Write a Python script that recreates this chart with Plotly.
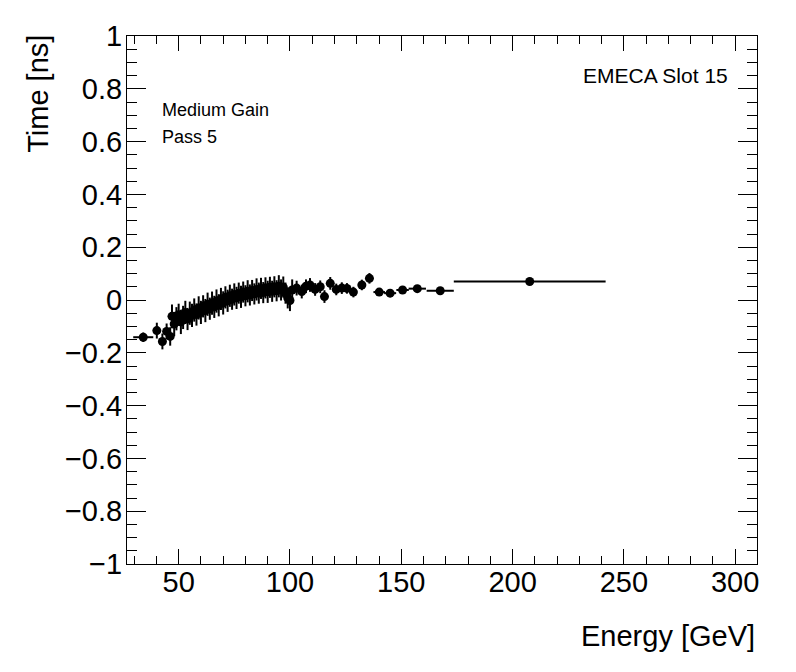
#import necessary packages
import plotly.graph_objects as go

#energy bin centres [GeV]
energy = [34.1, 40.2, 42.7, 44.6, 46.2,
          47, 48, 49, 50, 51, 52, 53, 54, 55, 56, 57, 58, 59, 60,
          61, 62, 63, 64, 65, 66, 67, 68, 69, 70, 71, 72, 73, 74, 75,
          76, 77, 78, 79, 80, 81, 82, 83, 84, 85, 86, 87, 88, 89, 90,
          91, 92, 93, 94, 95, 96, 97, 98, 99, 100, 101,
          103.0, 105.3, 107.2, 109.0, 111.3, 113.6, 115.5, 118.1, 120.8,
          123.3, 125.6, 128.5, 132.3, 135.7,
          140.1, 145.0, 150.6, 157.2, 167.5, 207.7]

#half bin widths [GeV]
energy_err = [4.5, 1.2, 1.0, 0.9, 0.8,
              0.5, 0.5, 0.5, 0.5, 0.5, 0.5, 0.5, 0.5, 0.5, 0.5, 0.5, 0.5, 0.5, 0.5,
              0.5, 0.5, 0.5, 0.5, 0.5, 0.5, 0.5, 0.5, 0.5, 0.5, 0.5, 0.5, 0.5, 0.5, 0.5,
              0.5, 0.5, 0.5, 0.5, 0.5, 0.5, 0.5, 0.5, 0.5, 0.5, 0.5, 0.5, 0.5, 0.5, 0.5,
              0.5, 0.5, 0.5, 0.5, 0.5, 0.5, 0.5, 0.5, 0.5, 0.5, 0.6,
              1.1, 1.1, 1.0, 1.0, 1.2, 1.1, 1.0, 1.3, 1.3,
              1.2, 1.2, 1.5, 1.8, 1.7,
              2.6, 2.7, 2.8, 3.9, 6.1, 34.1]

#mean time [ns]
time_ns = [-0.141, -0.116, -0.157, -0.119, -0.138,
           -0.062, -0.091, -0.071, -0.056, -0.083, -0.066, -0.047, -0.072, -0.050, -0.058,
           -0.038, -0.055, -0.030, -0.047, -0.024, -0.040, -0.016, -0.033, -0.012, -0.026,
           -0.004, -0.020, 0.004, -0.011, 0.010, -0.003, 0.016, 0.003, 0.021, 0.008,
           0.026, 0.012, 0.030, 0.016, 0.033, 0.019, 0.036, 0.023, 0.040, 0.026,
           0.044, 0.028, 0.046, 0.031, 0.048, 0.033, 0.050, 0.035, 0.052, 0.038,
           0.049, 0.026, 0.008, -0.002, 0.038,
           0.045, 0.032, 0.052, 0.057, 0.040, 0.050, 0.013, 0.063, 0.040,
           0.045, 0.044, 0.030, 0.057, 0.082,
           0.030, 0.026, 0.038, 0.043, 0.035, 0.070]

#error on mean time [ns]
time_err = [0.018, 0.030, 0.030, 0.030, 0.035,
            0.045, 0.046, 0.044, 0.042, 0.046, 0.044, 0.044, 0.042, 0.044, 0.044,
            0.044, 0.042, 0.044, 0.044, 0.042, 0.044, 0.044, 0.042, 0.044, 0.042,
            0.044, 0.042, 0.042, 0.044, 0.042, 0.042, 0.042, 0.040, 0.042, 0.042,
            0.040, 0.042, 0.040, 0.040, 0.042, 0.040, 0.040, 0.040, 0.042, 0.040,
            0.040, 0.040, 0.040, 0.042, 0.040, 0.040, 0.040, 0.040, 0.042, 0.040,
            0.040, 0.040, 0.040, 0.040, 0.040,
            0.028, 0.026, 0.026, 0.026, 0.024, 0.024, 0.024, 0.024, 0.022,
            0.022, 0.020, 0.020, 0.020, 0.020,
            0.015, 0.015, 0.014, 0.013, 0.012, 0.010]

x_ticks = [50, 100, 150, 200, 250, 300]
y_ticks = [-1, -0.8, -0.6, -0.4, -0.2, 0, 0.2, 0.4, 0.6, 0.8, 1]

font = "Liberation Sans, Arial, Helvetica, sans-serif"

fig = go.Figure()
fig.add_trace(go.Scatter(
    x=energy, y=time_ns, mode='markers',
    marker=dict(color='black', size=9, line=dict(width=0)),
    error_x=dict(type='data', array=energy_err, color='black', thickness=2, width=0),
    error_y=dict(type='data', array=time_err, color='black', thickness=2, width=0),
    showlegend=False))

#root style axes: ticks inside and mirrored on the opposite side
fig.update_xaxes(range=[26.8, 309.8], tickvals=x_ticks, ticks='inside', ticklen=15,
                 tickwidth=1, tickcolor='black', mirror='ticks', showline=True,
                 linecolor='black', linewidth=1, showgrid=False, zeroline=False,
                 minor=dict(dtick=10, tick0=0, ticks='inside', ticklen=8, tickwidth=1,
                            tickcolor='black', showgrid=False),
                 ticklabelstandoff=-8,
                 tickfont=dict(family=font, size=29, color='black'))
fig.update_yaxes(range=[-1, 1], tickvals=y_ticks, ticks='inside', ticklen=19,
                 tickwidth=1, tickcolor='black', mirror='ticks', showline=True,
                 linecolor='black', linewidth=1, showgrid=False, zeroline=False,
                 minor=dict(dtick=0.05, tick0=0, ticks='inside', ticklen=10, tickwidth=1,
                            tickcolor='black', showgrid=False),
                 ticklabelstandoff=-2,
                 tickfont=dict(family=font, size=29, color='black'))

#axis titles and labels placed like in root
fig.add_annotation(text='Energy [GeV]', xref='paper', yref='paper', x=1.0, y=-0.1356,
                   xanchor='right', yanchor='middle', showarrow=False,
                   font=dict(family=font, size=29, color='black'))
fig.add_annotation(text='Time [ns]', xref='paper', yref='paper', x=-0.1413, y=1.006,
                   xanchor='center', yanchor='top', textangle=-90, showarrow=False,
                   font=dict(family=font, size=29, color='black'))
fig.add_annotation(text='Medium Gain', xref='paper', yref='paper', x=0.0524, y=0.8606,
                   xanchor='left', yanchor='middle', showarrow=False,
                   font=dict(family=font, size=18, color='black'))
fig.add_annotation(text='Pass 5', xref='paper', yref='paper', x=0.0524, y=0.8079,
                   xanchor='left', yanchor='middle', showarrow=False,
                   font=dict(family=font, size=18, color='black'))
fig.add_annotation(text='EMECA Slot 15', xref='paper', yref='paper', x=0.957, y=0.9247,
                   xanchor='right', yanchor='middle', showarrow=False,
                   font=dict(family=font, size=21, color='black'))

#page body adds an 8px offset, so the figure is a bit smaller than the window
fig.update_layout(width=788, height=664, autosize=False,
                  margin=dict(l=119, r=39, t=25, b=108),
                  paper_bgcolor='white', plot_bgcolor='white')

fig.write_html("out.html")
